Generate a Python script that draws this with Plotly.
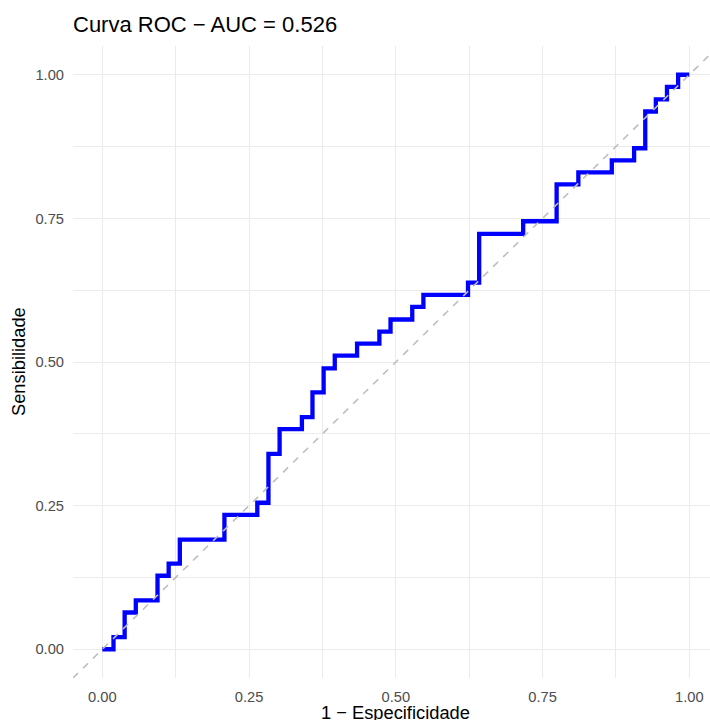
import plotly.graph_objects as go

# ROC curve vertices (1 - specificity, sensitivity), step shape "hv"
fpr = [0.000, 0.019, 0.038, 0.057, 0.094, 0.113, 0.132, 0.208, 0.264, 0.283,
       0.302, 0.340, 0.358, 0.377, 0.396, 0.434, 0.472, 0.491, 0.528, 0.547,
       0.623, 0.642, 0.717, 0.774, 0.811, 0.868, 0.906, 0.925, 0.943, 0.962,
       0.981, 1.000]
tpr = [0.000, 0.021, 0.064, 0.085, 0.128, 0.149, 0.191, 0.234, 0.255, 0.340,
       0.383, 0.404, 0.447, 0.489, 0.511, 0.532, 0.553, 0.574, 0.596, 0.617,
       0.638, 0.723, 0.745, 0.809, 0.830, 0.851, 0.872, 0.936, 0.957, 0.979,
       1.000, 1.000]

diag_x = [-0.05, 1.05]
diag_y = [-0.05, 1.05]

tick_vals = [0, 0.25, 0.5, 0.75, 1.0]
tick_text = ["0.00", "0.25", "0.50", "0.75", "1.00"]

title_text = "Curva ROC − AUC = 0.526"
x_title = "1 − Especificidade"
y_title = "Sensibilidade"

FONT = "Liberation Sans, Arial, Helvetica, sans-serif"

fig = go.Figure()
fig.add_trace(go.Scatter(
    x=fpr, y=tpr, mode="lines", line=dict(color="#0000FF", width=4.3, shape="hv"),
    hoverinfo="skip", showlegend=False))
fig.add_trace(go.Scatter(
    x=diag_x, y=diag_y, mode="lines",
    line=dict(color="#BEBEBE", width=1.6, dash="7px,7px"),
    hoverinfo="skip", showlegend=False))

axis_common = dict(
    showgrid=True, gridcolor="#EBEBEB", gridwidth=1.1,
    zeroline=False, showline=False, ticks="",
    tickfont=dict(family=FONT, size=14.7, color="#4D4D4D"),
    minor=dict(tick0=0.125, dtick=0.25, showgrid=True, gridcolor="#EBEBEB", gridwidth=0.55),
)

fig.update_layout(
    width=710, height=720,
    margin=dict(l=73, r=0, t=46, b=42),
    paper_bgcolor="white", plot_bgcolor="white",
    font=dict(family=FONT),
    title=dict(text=title_text, font=dict(family=FONT, size=22, color="black"),
               xref="container", yref="container", x=73 / 710, xanchor="left",
               y=1 - 24 / 720, yanchor="middle"),
    xaxis=dict(range=[-0.05, 1.0353], tickvals=tick_vals, ticktext=tick_text,
               ticklabelstandoff=8, **axis_common),
    yaxis=dict(range=[-0.05, 1.05], tickvals=tick_vals, ticktext=tick_text,
               ticklabelstandoff=8, **axis_common),
    annotations=[
        dict(text=x_title, xref="x", x=0.5, yref="paper", y=-(712 - 678) / 632,
             xanchor="center", yanchor="middle", showarrow=False,
             font=dict(family=FONT, size=18.3, color="black")),
        dict(text=y_title, xref="paper", x=-(73 - 18) / 637, yref="paper", y=0.5,
             xanchor="center", yanchor="middle", textangle=-90, showarrow=False,
             font=dict(family=FONT, size=18.3, color="black")),
    ],
)

fig.write_html("out.html")
